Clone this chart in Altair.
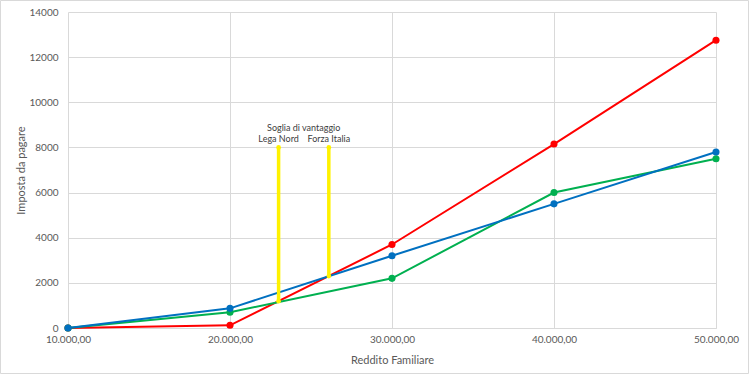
import altair as alt
import pandas as pd

# Data
redditi = [10000, 20000, 30000, 40000, 50000]
attuale = [0, 120, 3700, 8150, 12750]        # red
forza_italia = [0, 870, 3200, 5500, 7800]    # blue
lega_nord = [0, 700, 2200, 6000, 7500]       # green

# drawing order: red first, then green, then blue on top
serie_nomi = ["Attuale", "Lega Nord", "Forza Italia"]
serie_valori = [attuale, lega_nord, forza_italia]
serie_colori = ["#FF0000", "#00B050", "#0070C0"]

soglie_nomi = ["Lega Nord", "Forza Italia"]
soglie_x = [23000, 26100]
soglie_y0 = [1190, 2300]
soglie_y1 = [8000, 8000]
titolo_soglia = "Soglia di vantaggio"

rows = []
for nome, vals in zip(serie_nomi, serie_valori):
    for x, y in zip(redditi, vals):
        rows.append({"serie": nome, "reddito": x, "imposta": y})
df = pd.DataFrame(rows)

soglie = pd.DataFrame({"nome": soglie_nomi, "x": soglie_x, "y0": soglie_y0, "y1": soglie_y1})
soglie_punti = pd.DataFrame({
    "x": soglie_x + soglie_x,
    "y": soglie_y0 + soglie_y1,
})
titolo_df = pd.DataFrame({"x": [sum(soglie_x) / 2], "y": [max(soglie_y1)], "t": [titolo_soglia]})

FONT = "Lato"
GREY = "#595959"

xscale = alt.Scale(domain=[10000, 50000], nice=False, zero=False)
yscale = alt.Scale(domain=[0, 14000], nice=False)

xaxis = alt.Axis(
    values=redditi,
    labelExpr="replace(format(datum.value, ','), ',', '.') + ',00'",
    title="Reddito Familiare",
    grid=True,
    ticks=False,
    domain=True,
    domainColor="#d9d9d9",
    gridColor="#d9d9d9",
    labelPadding=6,
    titlePadding=10,
    labelFlush=False,
)
yaxis = alt.Axis(
    values=list(range(0, 14001, 2000)),
    format="d",
    title="Imposta da pagare",
    grid=True,
    ticks=False,
    domain=False,
    gridColor="#d9d9d9",
    labelPadding=10,
    titlePadding=2,
)

layers = []
for nome, c in zip(serie_nomi, serie_colori):
    sub = df[df["serie"] == nome]
    layers.append(alt.Chart(sub).mark_line(strokeWidth=2, color=c).encode(
        x=alt.X("reddito:Q", scale=xscale, axis=xaxis),
        y=alt.Y("imposta:Q", scale=yscale, axis=yaxis),
    ))
    layers.append(alt.Chart(sub).mark_circle(size=50, opacity=1, color=c).encode(
        x=alt.X("reddito:Q", scale=xscale),
        y=alt.Y("imposta:Q", scale=yscale),
    ))

rules = alt.Chart(soglie).mark_rule(color="#FFF200", strokeWidth=3.5).encode(
    x=alt.X("x:Q", scale=xscale),
    y=alt.Y("y0:Q", scale=yscale),
    y2="y1:Q",
)
caps = alt.Chart(soglie_punti).mark_circle(color="#FFF200", size=22, opacity=1).encode(
    x=alt.X("x:Q", scale=xscale),
    y=alt.Y("y:Q", scale=yscale),
)
nomi_txt = alt.Chart(soglie).mark_text(
    font=FONT, fontSize=9, color="#404040", baseline="bottom", dy=-3
).encode(
    x=alt.X("x:Q", scale=xscale),
    y=alt.Y("y1:Q", scale=yscale),
    text="nome:N",
)
titolo_txt = alt.Chart(titolo_df).mark_text(
    font=FONT, fontSize=9, color="#404040", baseline="bottom", dy=-14
).encode(
    x=alt.X("x:Q", scale=xscale),
    y=alt.Y("y:Q", scale=yscale),
    text="t:N",
)

frame = alt.Chart(pd.DataFrame({"a": [0]})).mark_rect(
    fill=None, stroke="#d9d9d9", strokeWidth=1, clip=False
).encode(
    x=alt.value(-67.5), x2=alt.value(680.5), y=alt.value(-11.5), y2=alt.value(361.5)
)

chart = alt.layer(*layers, rules, caps, nomi_txt, titolo_txt, frame).properties(
    width=648,
    height=316,
    autosize=alt.AutoSizeParams(type="none"),
    padding={"left": 68, "top": 12, "right": 34, "bottom": 47},
    background="white",
).configure_view(stroke=None).configure_axis(
    labelFont=FONT, titleFont=FONT, labelFontSize=10, titleFontSize=11,
    labelColor=GREY, titleColor=GREY, titleFontWeight="normal",
)

chart.save("out.html", embed_options={"renderer": "svg", "actions": False})
